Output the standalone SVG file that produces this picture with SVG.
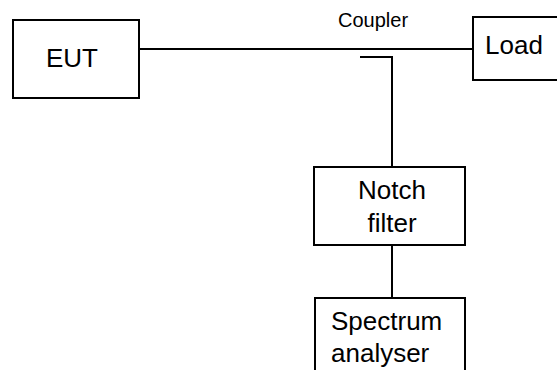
<svg xmlns="http://www.w3.org/2000/svg" width="557" height="370" viewBox="0 0 557 370">
<style>
.box{fill:#fff;stroke:#000;stroke-width:2}
.ln{fill:none;stroke:#000;stroke-width:2}
text{font-family:"Liberation Sans",Arial,sans-serif;fill:#000}
.t{font-size:26px;text-anchor:middle}
.s{font-size:26px}
</style>
<rect width="557" height="370" fill="#fff"/>
<g id="connectors">
<line class="ln" x1="139" y1="49" x2="473" y2="49"/>
<polyline class="ln" points="360,57 392,57 392,167"/>
<line class="ln" x1="392" y1="245" x2="392" y2="298"/>
</g>
<g id="coupler-label"><text x="338" y="27" font-size="20">Coupler</text></g>
<g id="eut"><rect class="box" x="13" y="20" width="126" height="78"/><text class="t" x="72" y="67">EUT</text></g>
<g id="load"><rect class="box" x="473" y="17" width="90" height="63"/><text class="s" x="485" y="54">Load</text></g>
<g id="notch"><rect class="box" x="314" y="167" width="151" height="78"/><text class="t" x="392" y="199">Notch</text><text class="t" x="392" y="232">filter</text></g>
<g id="spectrum"><rect class="box" x="315" y="298" width="150" height="80"/><text class="s" x="331" y="330">Spectrum</text><text class="s" x="331" y="362">analyser</text></g>
</svg>
